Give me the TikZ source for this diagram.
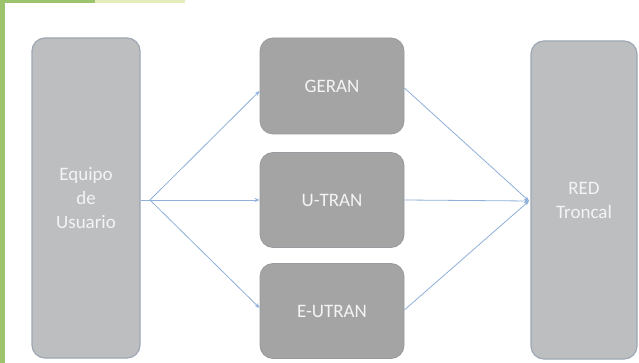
\documentclass[tikz,border=0pt]{standalone}
\usepackage{fontspec}
\setmainfont{Carlito}
\usetikzlibrary{arrows.meta}
\definecolor{sidebox}{HTML}{BDBEC0}
\definecolor{sideedge}{HTML}{9EA7B3}
\definecolor{midbox}{HTML}{A4A4A4}
\definecolor{midedge}{HTML}{979A9E}
\definecolor{linkc}{HTML}{8FB0DA}
\definecolor{barg}{HTML}{9CC46C}
\definecolor{barl}{HTML}{E6EDBA}
\definecolor{txt}{HTML}{F4F4F4}
\tikzset{
  sidenode/.style={draw=sideedge, line width=1.2pt, fill=sidebox, rounded corners=13pt, inner sep=0pt, text=txt, font=\fontsize{19}{24}\selectfont, align=center},
  midnode/.style={draw=midedge, line width=0.8pt, fill=midbox, rounded corners=13pt, inner sep=0pt, text=txt, font=\fontsize{19}{22}\selectfont, align=center},
  link/.style={draw=linkc, line width=0.8pt, -{Stealth[length=5pt,width=4pt]}},
  plain/.style={draw=linkc, line width=0.8pt}
}
\begin{document}
\begin{tikzpicture}[x=1pt,y=-1pt]
\useasboundingbox (0,0) rectangle (639,363);
\fill[white] (0,0) rectangle (639,363);
\fill[barg] (0,0) rectangle (5,363);
\fill[barg] (0,0) rectangle (95,3);
\fill[barl] (95,0) rectangle (185,3);
\node[sidenode, minimum width=108pt, minimum height=320pt] (ue) at (86,198) {Equipo\\de\\Usuario};
\node[midnode, minimum width=144pt, minimum height=96pt] (geran) at (332,86) {GERAN};
\node[midnode, minimum width=144pt, minimum height=95pt] (utran) at (332,200) {U-TRAN};
\node[midnode, minimum width=144pt, minimum height=95pt] (eutran) at (332,311) {E-UTRAN};
\node[sidenode, minimum width=106pt, minimum height=318pt] (core) at (584,200) {RED\\Troncal};
\coordinate (split) at (150,200);
\coordinate (join) at (529,201);
\draw[plain] (ue.east |- split) -- (split);
\draw[link] (split) -- (geran.west |- 0,91);
\draw[link] (split) -- (utran.west);
\draw[link] (split) -- (eutran.west |- 0,308);
\draw[link] (geran.east |- 0,88) -- (join);
\draw[link] (utran.east) -- (join);
\draw[link] (eutran.east |- 0,310) -- (join);
\end{tikzpicture}
\end{document}
